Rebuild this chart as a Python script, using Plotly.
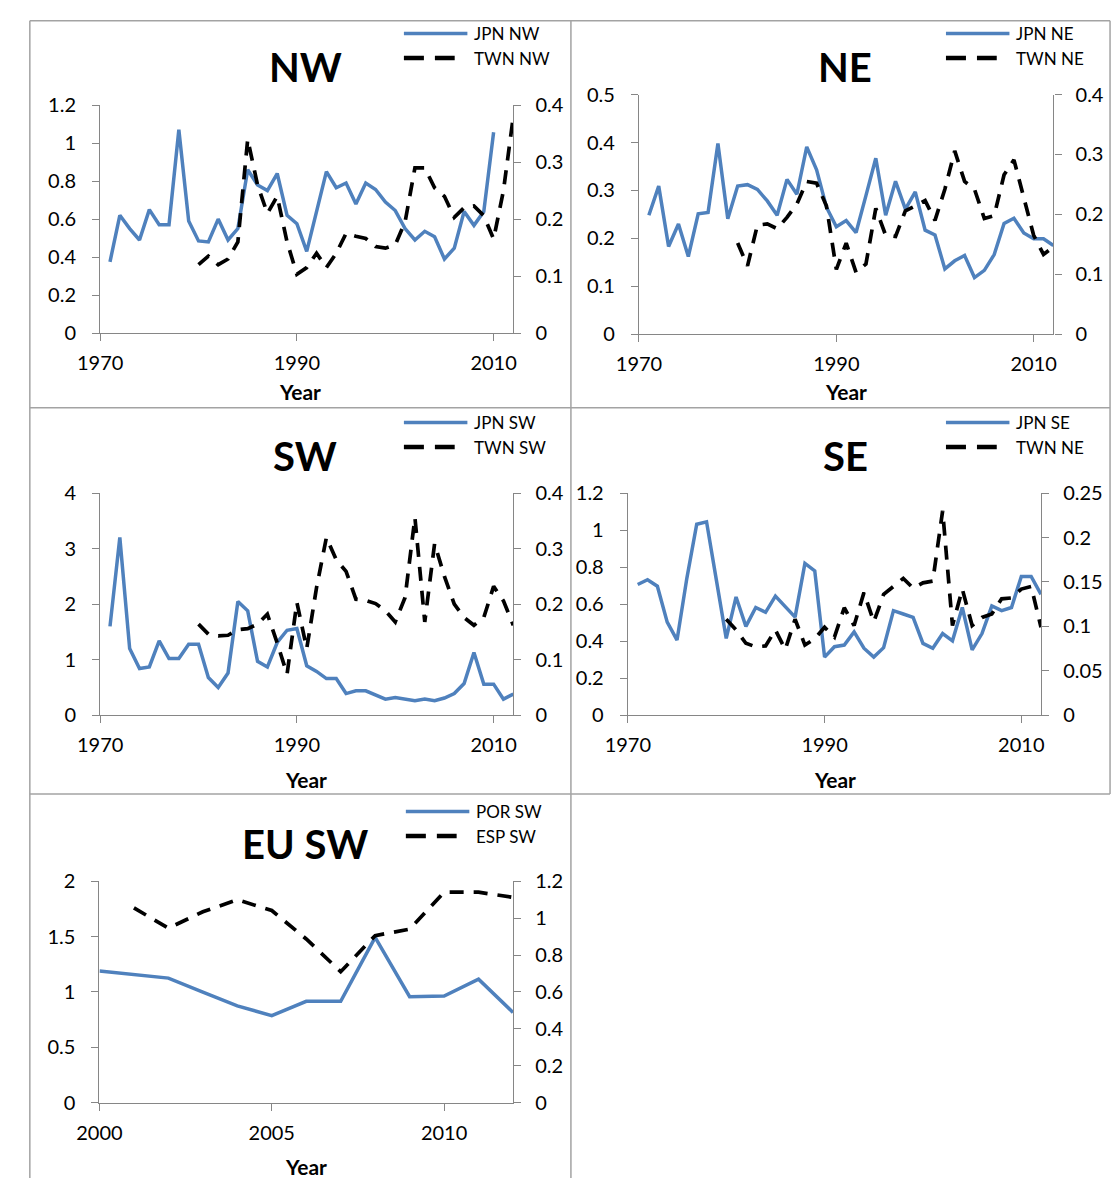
import plotly.graph_objects as go

W, H = 1115, 1189

# ---------------- data ----------------
years_jpn_nw = list(range(1971, 2011))
jpn_nw = [0.375, 0.62, 0.55, 0.49, 0.65, 0.57, 0.57, 1.07, 0.59, 0.485,
          0.48, 0.60, 0.49, 0.55, 0.86, 0.78, 0.75, 0.84, 0.62, 0.576,
          0.43, 0.64, 0.85, 0.765, 0.79, 0.68, 0.79, 0.756, 0.69, 0.645,
          0.55, 0.49, 0.536, 0.507, 0.39, 0.447, 0.64, 0.567, 0.64, 1.057]

years_twn = list(range(1980, 2013))
twn_nw = [0.12, 0.135, 0.12, 0.13, 0.16, 0.34, 0.26, 0.21, 0.24, 0.16,
          0.103, 0.115, 0.14, 0.115, 0.14, 0.175, 0.17, 0.166, 0.152, 0.149,
          0.155, 0.195, 0.29, 0.29, 0.255, 0.24, 0.203, 0.22, 0.223, 0.206,
          0.165, 0.25, 0.38]

years_jpn = list(range(1971, 2013))
jpn_ne = [0.248, 0.309, 0.183, 0.23, 0.162, 0.251, 0.254, 0.398, 0.241, 0.309,
          0.312, 0.302, 0.278, 0.248, 0.323, 0.292, 0.391, 0.343, 0.265, 0.224,
          0.237, 0.212, 0.289, 0.367, 0.248, 0.319, 0.261, 0.297, 0.217, 0.207,
          0.136, 0.153, 0.164, 0.118, 0.133, 0.166, 0.231, 0.242, 0.211, 0.199,
          0.199, 0.185]
twn_ne = [0.152, 0.114, 0.182, 0.184, 0.176, 0.195, 0.217, 0.255, 0.252, 0.214,
          0.108, 0.152, 0.103, 0.117, 0.21, 0.165, 0.163, 0.206, 0.214, 0.223,
          0.19, 0.242, 0.306, 0.255, 0.242, 0.193, 0.198, 0.266, 0.291, 0.225,
          0.165, 0.133, 0.146]

jpn_sw = [1.6, 3.2, 1.2, 0.84, 0.87, 1.34, 1.02, 1.02, 1.28, 1.28,
          0.68, 0.5, 0.76, 2.05, 1.88, 0.97, 0.87, 1.31, 1.53, 1.56,
          0.89, 0.79, 0.66, 0.66, 0.39, 0.44, 0.44, 0.36, 0.29, 0.32,
          0.29, 0.26, 0.29, 0.26, 0.31, 0.39, 0.57, 1.13, 0.56, 0.56,
          0.29, 0.38]
twn_sw = [0.164, 0.146, 0.143, 0.144, 0.154, 0.156, 0.164, 0.182, 0.13, 0.074,
          0.203, 0.12, 0.23, 0.32, 0.28, 0.259, 0.209, 0.207, 0.201, 0.188,
          0.168, 0.212, 0.356, 0.168, 0.309, 0.25, 0.2, 0.176, 0.162, 0.176,
          0.232, 0.206, 0.162]

jpn_se = [0.706, 0.732, 0.697, 0.503, 0.406, 0.741, 1.032, 1.045, 0.73, 0.415,
          0.639, 0.48, 0.582, 0.556, 0.644, 0.59, 0.53, 0.82, 0.78, 0.314,
          0.37, 0.379, 0.45, 0.362, 0.314, 0.365, 0.565, 0.547, 0.529, 0.388,
          0.362, 0.441, 0.402, 0.582, 0.353, 0.441, 0.591, 0.565, 0.582, 0.75,
          0.75, 0.653]
twn_se = [0.108, 0.096, 0.081, 0.077, 0.078, 0.096, 0.074, 0.108, 0.079, 0.086,
          0.099, 0.088, 0.121, 0.101, 0.138, 0.105, 0.136, 0.145, 0.154, 0.143,
          0.149, 0.151, 0.23, 0.101, 0.142, 0.101, 0.11, 0.114, 0.131, 0.132,
          0.142, 0.145, 0.099]

years_por = list(range(2000, 2013))
por_sw = [1.19, 1.158, 1.125, 0.999, 0.875, 0.786, 0.916, 0.916, 1.493, 0.957,
          0.963, 1.116, 0.816]
years_esp = list(range(2001, 2013))
esp_sw = [1.055, 0.945, 1.034, 1.099, 1.041, 0.887, 0.71, 0.905, 0.94, 1.14,
          1.14, 1.112]

titles = ["NW", "NE", "SW", "SE", "EU SW"]
solid_names = ["JPN NW", "JPN NE", "JPN SW", "JPN SE", "POR SW"]
dash_names = ["TWN NW", "TWN NE", "TWN SW", "TWN NE", "ESP SW"]
x_title = "Year"

x_ticks_long = [1970, 1990, 2010]
x_ticks_eu = [2000, 2005, 2010]
ticks_0_12 = [0, 0.2, 0.4, 0.6, 0.8, 1, 1.2]
text_0_12 = ["0", "0.2", "0.4", "0.6", "0.8", "1", "1.2"]
ticks_0_04 = [0, 0.1, 0.2, 0.3, 0.4]
text_0_04 = ["0", "0.1", "0.2", "0.3", "0.4"]
ticks_0_05 = [0, 0.1, 0.2, 0.3, 0.4, 0.5]
text_0_05 = ["0", "0.1", "0.2", "0.3", "0.4", "0.5"]
ticks_0_4 = [0, 1, 2, 3, 4]
text_0_4 = ["0", "1", "2", "3", "4"]
ticks_0_025 = [0, 0.05, 0.1, 0.15, 0.2, 0.25]
text_0_025 = ["0", "0.05", "0.1", "0.15", "0.2", "0.25"]
ticks_0_2 = [0, 0.5, 1, 1.5, 2]
text_0_2 = ["0", "0.5", "1", "1.5", "2"]

# ---------------- layout helpers ----------------
def fx(px):
    return px / W

def fy(py):
    return 1 - py / H

FONT = "Lato, 'Open Sans', sans-serif"
BLUE = "#4F81BD"
AXIS = "#868686"
BORDER = "#a3a3a3"

panels = [
    dict(series=(years_jpn_nw, jpn_nw, years_twn, twn_nw), xr=[1970, 2012], xt=x_ticks_long,
         yl=([0, 1.2], ticks_0_12, text_0_12), yr=([0, 0.4], ticks_0_04, text_0_04),
         box=(79, 502, 94, 326.7), title=(289, 55), xlab=(284, 386), leg=(390, 21)),
    dict(series=(years_jpn, jpn_ne, years_twn, twn_ne), xr=[1970, 2012], xt=x_ticks_long,
         yl=([0, 0.5], ticks_0_05, text_0_05), yr=([0, 0.4], ticks_0_04, text_0_04),
         box=(630.7, 1055, 83.3, 327.7), title=(842, 55), xlab=(843, 386), leg=(945, 21)),
    dict(series=(years_jpn, jpn_sw, years_twn, twn_sw), xr=[1970, 2012], xt=x_ticks_long,
         yl=([0, 4], ticks_0_4, text_0_4), yr=([0, 0.4], ticks_0_04, text_0_04),
         box=(79, 502, 490, 716.7), title=(289, 452), xlab=(290, 782), leg=(390, 418)),
    dict(series=(years_jpn, jpn_se, years_twn, twn_se), xr=[1970, 2012], xt=x_ticks_long,
         yl=([0, 1.2], ticks_0_12, text_0_12), yr=([0, 0.25], ticks_0_025, text_0_025),
         box=(619.3, 1042.3, 490, 716.7), title=(842, 452), xlab=(831, 782), leg=(945, 418)),
    dict(series=(years_por, por_sw, years_esp, esp_sw), xr=[2000, 2012], xt=x_ticks_eu,
         yl=([0, 2], ticks_0_2, text_0_2), yr=([0, 1.2], ticks_0_12, text_0_12),
         box=(78.3, 501.7, 886, 1112.3), title=(289, 848), xlab=(290, 1177), leg=(392, 815)),
]

fig = go.Figure()
layout = dict(width=W, height=H, margin=dict(l=0, r=0, t=0, b=0), autosize=False,
              paper_bgcolor="white", plot_bgcolor="white", showlegend=False,
              font=dict(family=FONT, color="black"))

axis_common = dict(showgrid=False, zeroline=False, showline=True, linecolor=AXIS, linewidth=1.3,
                   ticks="outside", ticklen=7, tickwidth=1.3, tickcolor=AXIS,
                   tickfont=dict(family=FONT, size=20, color="black"), fixedrange=True)

shapes = []
annotations = []

for i, p in enumerate(panels):
    xid = "x" if i == 0 else f"x{i + 1}"
    ylid = f"y{2 * i + 1}" if i > 0 else "y"
    yrid = f"y{2 * i + 2}"
    xkey = "xaxis" if i == 0 else f"xaxis{i + 1}"
    ylkey = "yaxis" if i == 0 else f"yaxis{2 * i + 1}"
    yrkey = f"yaxis{2 * i + 2}"
    x0, x1, ytop, ybot = p["box"]

    layout[xkey] = dict(axis_common, domain=[fx(x0), fx(x1)], range=p["xr"], anchor=ylid,
                        tickmode="array", tickvals=p["xt"], ticktext=[str(v) for v in p["xt"]],
                        ticklabelstandoff=5)
    layout[ylkey] = dict(axis_common, domain=[fy(ybot), fy(ytop)], range=p["yl"][0], anchor=xid,
                         tickmode="array", tickvals=p["yl"][1], ticktext=p["yl"][2],
                         ticklabelstandoff=12)
    layout[yrkey] = dict(axis_common, range=p["yr"][0], anchor=xid, overlaying=ylid, side="right",
                         tickmode="array", tickvals=p["yr"][1], ticktext=p["yr"][2],
                         ticklabelstandoff=10)

    xs, ys, xd, yd = p["series"]
    fig.add_trace(go.Scatter(x=xs, y=ys, mode="lines", name=solid_names[i],
                             line=dict(color=BLUE, width=3.5), xaxis=xid, yaxis=ylid))
    fig.add_trace(go.Scatter(x=xd, y=yd, mode="lines", name=dash_names[i],
                             line=dict(color="black", width=3.7, dash="14px,10px"),
                             xaxis=xid, yaxis=yrid))

    tx, ty = p["title"]
    annotations.append(dict(text=f"<b>{titles[i]}</b>", x=fx(tx), y=fy(ty), xref="paper", yref="paper",
                            showarrow=False, xanchor="center", yanchor="middle",
                            font=dict(family=FONT, size=40, color="black")))
    lx, ly = p["xlab"]
    annotations.append(dict(text=f"<b>{x_title}</b>", x=fx(lx), y=fy(ly), xref="paper", yref="paper",
                            showarrow=False, xanchor="center", yanchor="middle",
                            font=dict(family=FONT, size=21, color="black")))
    gx, gy = p["leg"]
    shapes.append(dict(type="line", xref="paper", yref="paper", x0=fx(gx), x1=fx(gx + 65),
                       y0=fy(gy), y1=fy(gy), line=dict(color=BLUE, width=3.5)))
    shapes.append(dict(type="line", xref="paper", yref="paper", x0=fx(gx), x1=fx(gx + 52),
                       y0=fy(gy + 25), y1=fy(gy + 25),
                       line=dict(color="black", width=4.5, dash="20px,11px")))
    annotations.append(dict(text=solid_names[i], x=fx(gx + 70), y=fy(gy), xref="paper", yref="paper",
                            showarrow=False, xanchor="left", yanchor="middle",
                            font=dict(family=FONT, size=17, color="black")))
    annotations.append(dict(text=dash_names[i], x=fx(gx + 70), y=fy(gy + 25), xref="paper", yref="paper",
                            showarrow=False, xanchor="left", yanchor="middle",
                            font=dict(family=FONT, size=17, color="black")))

# panel borders
for (a, b, c, d) in [(7, 8, 1113, 8), (7, 8, 7, 1189), (561, 8, 561, 1189),
                     (7, 403, 1113, 403), (7, 797, 1113, 797), (1113, 8, 1113, 797)]:
    shapes.append(dict(type="line", xref="paper", yref="paper", x0=fx(a), y0=fy(b), x1=fx(c), y1=fy(d),
                       line=dict(color=BORDER, width=1.5), layer="below"))

layout["shapes"] = shapes
layout["annotations"] = annotations
fig.update_layout(**layout)
fig.write_html("out.html")
